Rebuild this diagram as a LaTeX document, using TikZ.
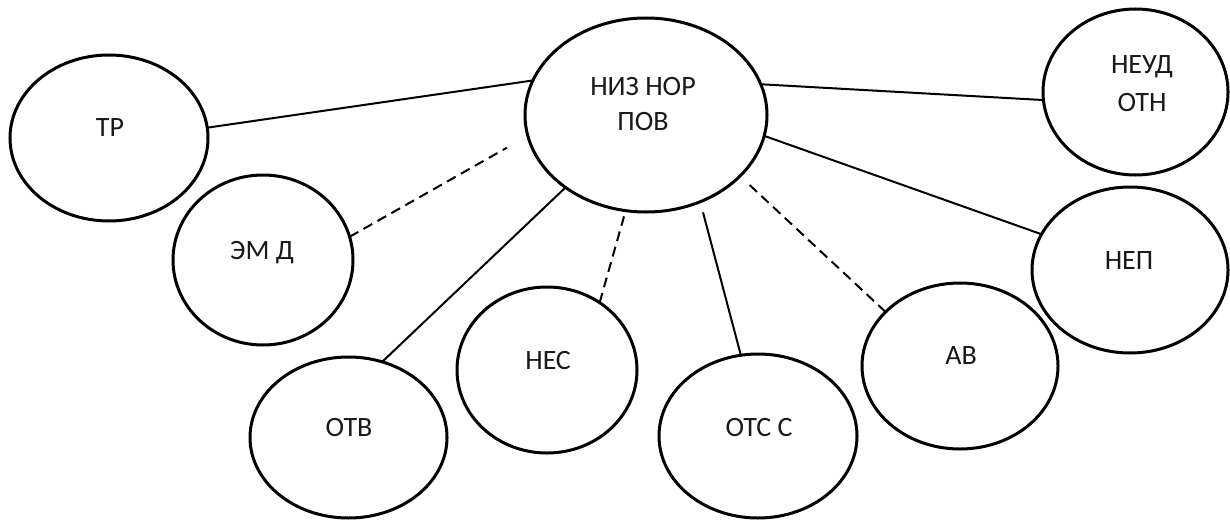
\documentclass[tikz,border=0pt]{standalone}
\usepackage{fontspec}
\setmainfont{Carlito}
\usetikzlibrary{shapes.geometric}
\begin{document}
\begin{tikzpicture}[x=1pt,y=-1pt,
  oval/.style={ellipse,draw=black,line width=3pt,inner sep=0pt,outer sep=0pt},
  txt/.style={anchor=base,inner sep=0pt,text=black!90,font=\fontsize{28}{34}\selectfont},
  link/.style={draw=black,line width=2pt},
  dlink/.style={draw=black,line width=2pt,dash pattern=on 10pt off 6pt}]
\useasboundingbox (0,0) rectangle (1230,519);
% ovals
\node[oval,minimum width=242pt,minimum height=194pt] (c) at (646,115) {};
\node[oval,minimum width=198pt,minimum height=166pt] (tr) at (109,138) {};
\node[oval,minimum width=180pt,minimum height=170pt] (emd) at (263,260) {};
\node[oval,minimum width=197pt,minimum height=161pt] (otb) at (348.5,437.5) {};
\node[oval,minimum width=180pt,minimum height=166pt] (nes) at (547,370) {};
\node[oval,minimum width=198pt,minimum height=164pt] (otc) at (758,436) {};
\node[oval,minimum width=196pt,minimum height=166pt] (av) at (960,366) {};
\node[oval,minimum width=196pt,minimum height=166pt] (nep) at (1130,270) {};
\node[oval,minimum width=185pt,minimum height=166pt] (neud) at (1135.5,92) {};
% texts
\node[txt] (cA) at (643,95) {НИЗ НОР};
\node[txt] (cB) at (643,130) {ПОВ};
\node[txt] (trT) at (110,136) {ТР};
\node[txt] (emdT) at (262,259) {ЭМ Д};
\node[txt] (otbT) at (349,436) {ОТВ};
\node[txt] (nesT) at (548,369) {НЕС};
\node[txt] (otcT) at (759,436) {ОТС С};
\node[txt] (avT) at (961,364) {АВ};
\node[txt] (nepT) at (1129,269) {НЕП};
\node[txt] (neudA) at (1142,73) {НЕУД};
\node[txt] (neudB) at (1142,111) {ОТН};
% connectors
\draw[link] (tr.6) -- (c.163);
\draw[dlink,shorten >=24pt] (emd.15) -- (c.190);
\draw[link] (otb.66) -- (c.222);
\draw[dlink,shorten >=6pt] (nes.52) -- (c.258);
\draw[link,shorten >=11pt] (otc.102) -- (c.302);
\draw[dlink,shorten >=8pt] (av.144) -- (c.327);
\draw[link] (c.350) -- (nep.158);
\draw[link] (c.15) -- (neud.185);
\end{tikzpicture}
\end{document}
